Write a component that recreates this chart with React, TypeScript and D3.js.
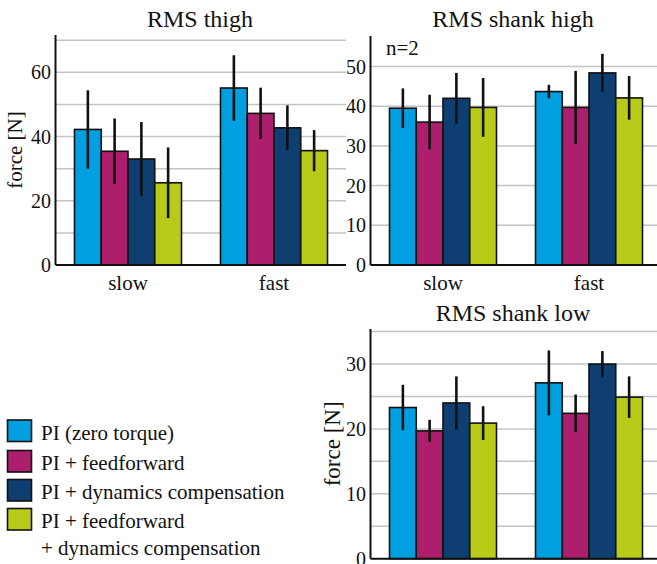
import React from "react";
import * as d3 from "d3";

const categories = ["slow", "fast"];
const seriesNames = [
  "PI (zero torque)",
  "PI + feedforward",
  "PI + dynamics compensation",
  "PI + feedforward + dynamics compensation",
];
const seriesColors = ["#009fdf", "#ad1f6c", "#0f3e70", "#b8cb19"];

// values per category: [slow[], fast[]]
const thighMean = [[42.2, 35.4, 33.0, 25.6], [55.1, 47.2, 42.7, 35.6]];
const thighErr = [[12.2, 10.2, 11.5, 11.0], [10.2, 8.0, 7.0, 6.4]];
const shankHighMean = [[39.5, 36.0, 42.0, 39.7], [43.7, 39.7, 48.4, 42.1]];
const shankHighErr = [[5.0, 6.9, 6.4, 7.4], [1.7, 9.2, 4.8, 5.5]];
const shankLowMean = [[23.3, 19.7, 24.0, 20.9], [27.1, 22.4, 30.0, 24.9]];
const shankLowErr = [[3.5, 1.7, 4.1, 2.6], [5.0, 2.9, 2.0, 3.2]];

const thighTicks = [0, 20, 40, 60];
const thighGrid = [10, 20, 30, 40, 50, 60, 70];
const shankHighTicks = [0, 10, 20, 30, 40, 50];
const shankHighGrid = [10, 20, 30, 40, 50];
const shankLowTicks = [0, 10, 20, 30];
const shankLowGrid = [5, 10, 15, 20, 25, 30, 35];

const legendLines = [
  ["PI (zero torque)"],
  ["PI + feedforward"],
  ["PI + dynamics compensation"],
  ["PI + feedforward", "+ dynamics compensation"],
];

const BASE = 18;

function T(props: {
  x: number;
  y: number;
  size: number;
  anchor?: "start" | "middle" | "end";
  rotate?: number;
  children: React.ReactNode;
}) {
  const k = props.size / BASE;
  return (
    <text
      transform={`translate(${props.x},${props.y}) rotate(${props.rotate || 0}) scale(${k})`}
      textAnchor={props.anchor || "start"}
      style={{ fontFamily: '"Liberation Serif"', fontSize: BASE + "px" }}
      fill="#111"
    >
      {props.children}
    </text>
  );
}

type PanelProps = {
  title: string;
  titleX: number;
  titleY: number;
  x0: number;
  x1: number;
  gridRight: number;
  y0: number;
  y1: number;
  yMax: number;
  means: number[][];
  errs: number[][];
  ticks: number[];
  grid: number[];
  showCats: boolean;
  yLabel?: { x: number; size: number };
  note?: string;
};

function Panel(p: PanelProps) {
  const x = d3.scaleBand<string>().domain(categories).range([p.x0, p.x1]).padding(0);
  const bw = x.bandwidth();
  const groupW = 107;
  const sub = d3
    .scaleBand<string>()
    .domain(seriesNames)
    .range([(bw - groupW) / 2, (bw + groupW) / 2])
    .padding(0);
  const y = d3.scaleLinear().domain([0, p.yMax]).range([p.y0, p.y1]);
  const axisX = p.x0 + 0.5;
  return (
    <g>
      {p.grid.map((g) => (
        <line
          key={"g" + g}
          x1={axisX}
          x2={p.gridRight}
          y1={y(g)}
          y2={y(g)}
          stroke="#c4c4c4"
          strokeWidth={1.5}
        />
      ))}
      {categories.map((c, ci) =>
        seriesNames.map((s, si) => {
          const bx = (x(c) as number) + (sub(s) as number);
          const m = p.means[ci][si];
          const e = p.errs[ci][si];
          const cx = bx + sub.bandwidth() / 2;
          return (
            <g key={c + s}>
              <rect
                x={bx}
                y={y(m)}
                width={sub.bandwidth()}
                height={y(0) - y(m)}
                fill={seriesColors[si]}
                stroke="#111"
                strokeWidth={1.6}
              />
              <line x1={cx} x2={cx} y1={y(m + e)} y2={y(m - e)} stroke="#111" strokeWidth={2.6} />
            </g>
          );
        })
      )}
      <line x1={axisX} x2={axisX} y1={p.y1} y2={y(0)} stroke="#111" strokeWidth={2} />
      <line x1={axisX} x2={p.gridRight} y1={y(0)} y2={y(0)} stroke="#111" strokeWidth={2} />
      {p.ticks.map((t) => (
        <T key={"t" + t} x={p.x0 - 4} y={y(t) + 7} size={20} anchor="end">
          {t}
        </T>
      ))}
      {p.showCats &&
        categories.map((c) => (
          <T key={"c" + c} x={(x(c) as number) + bw / 2} y={p.y0 + 25} size={21} anchor="middle">
            {c}
          </T>
        ))}
      <T x={p.titleX} y={p.titleY} size={24} anchor="middle">
        {p.title}
      </T>
      {p.yLabel && (
        <T x={p.yLabel.x} y={(p.y0 + p.y1) / 2} size={p.yLabel.size} anchor="middle" rotate={-90}>
          force [N]
        </T>
      )}
      {p.note && (
        <T x={p.x0 + 16} y={p.y1 + 19} size={21}>
          {p.note}
        </T>
      )}
    </g>
  );
}

export default function App() {
  const lineTops = [420, 450.5, 479.5, 508.5];
  return (
    <svg
      width={657}
      height={564}
      style={{ position: "absolute", left: 0, top: 0, background: "#fff" }}
    >
      <rect x={0} y={0} width={657} height={564} fill="#fff" />
      <Panel
        title="RMS thigh"
        titleX={200}
        titleY={27}
        x0={55}
        x1={347}
        gridRight={346}
        y0={265}
        y1={35}
        yMax={71.6}
        means={thighMean}
        errs={thighErr}
        ticks={thighTicks}
        grid={thighGrid}
        showCats={true}
        yLabel={{ x: 22, size: 21 }}
      />
      <Panel
        title="RMS shank high"
        titleX={513}
        titleY={27}
        x0={370}
        x1={662}
        gridRight={657}
        y0={265}
        y1={36}
        yMax={57.7}
        means={shankHighMean}
        errs={shankHighErr}
        ticks={shankHighTicks}
        grid={shankHighGrid}
        showCats={true}
        note="n=2"
      />
      <Panel
        title="RMS shank low"
        titleX={513}
        titleY={321}
        x0={370}
        x1={662}
        gridRight={657}
        y0={558.7}
        y1={329}
        yMax={35.4}
        means={shankLowMean}
        errs={shankLowErr}
        ticks={shankLowTicks}
        grid={shankLowGrid}
        showCats={false}
        yLabel={{ x: 340, size: 23 }}
      />
      <g>
        {legendLines.map((lines, i) => (
          <g key={"l" + i}>
            <rect
              x={7.5}
              y={lineTops[i]}
              width={24}
              height={21.5}
              fill={seriesColors[i]}
              stroke="#111"
              strokeWidth={1.6}
            />
            {lines.map((ln, j) => (
              <T key={j} x={41} y={lineTops[i] + 19.5 + j * 27} size={21}>
                {ln}
              </T>
            ))}
          </g>
        ))}
      </g>
    </svg>
  );
}
